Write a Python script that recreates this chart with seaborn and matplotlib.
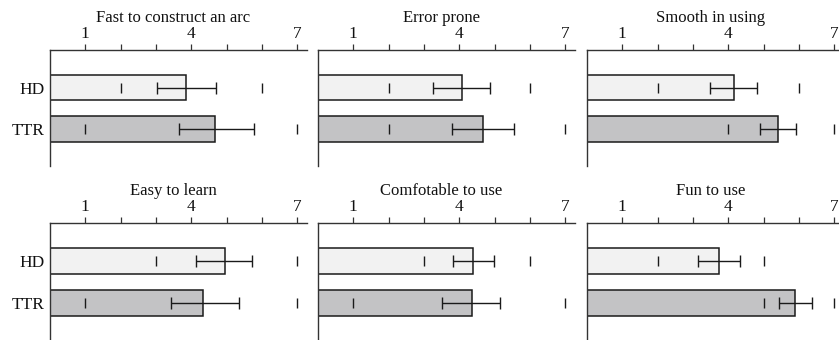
import matplotlib
matplotlib.use("Agg")
import matplotlib.pyplot as plt
import matplotlib.transforms as mtransforms
import seaborn as sns
import pandas as pd

sns.set_theme(style="white")
plt.rcParams['font.family'] = ['Liberation Serif', 'DejaVu Serif']

titles = ["Fast to construct an arc", "Error prone", "Smooth in using",
          "Easy to learn", "Comfotable to use", "Fun to use"]
groups = ["HD", "TTR"]
hd_mean = [3.85, 4.09, 4.15, 4.95, 4.40, 3.74]
hd_lo = [3.02, 3.27, 3.49, 4.13, 3.81, 3.14]
hd_hi = [4.71, 4.88, 4.81, 5.71, 4.99, 4.33]
hd_min = [2, 2, 2, 3, 3, 2]
hd_max = [6, 6, 6, 7, 6, 5]
ttr_mean = [4.68, 4.66, 5.42, 4.34, 4.35, 5.89]
ttr_lo = [3.65, 3.79, 4.89, 3.42, 3.50, 5.44]
ttr_hi = [5.77, 5.54, 5.93, 5.36, 5.15, 6.36]
ttr_min = [1, 2, 4, 1, 1, 5]
ttr_max = [7, 7, 7, 7, 7, 7]
major_ticks = [1, 4, 7]
minor_ticks = [2, 3, 5, 6]

colors = {"HD": "#f2f2f2", "TTR": "#c3c3c5"}

W, H = 839, 340
fig = plt.figure(figsize=(W / 100, H / 100), dpi=100)

lefts = [50, 318, 587]
tops = [50, 223]
bottoms = [166, 340]
aw = 257

for i, title in enumerate(titles):
    r, c = divmod(i, 3)
    x0 = lefts[c] / W
    y0 = 1 - bottoms[r] / H
    h = (bottoms[r] - tops[r]) / H
    ax = fig.add_axes([x0, y0, aw / W, h])
    df = pd.DataFrame({"group": groups,
                       "mean": [hd_mean[i], ttr_mean[i]]})
    sns.barplot(data=df, x="mean", y="group", hue="group", palette=colors,
                orient="h", width=0.62, edgecolor="#1a1a1a", linewidth=1.1,
                errorbar=None, legend=False, ax=ax)
    means = [hd_mean[i], ttr_mean[i]]
    lo = [hd_mean[i] - hd_lo[i], ttr_mean[i] - ttr_lo[i]]
    hi = [hd_hi[i] - hd_mean[i], ttr_hi[i] - ttr_mean[i]]
    ax.errorbar(means, [0, 1], xerr=[lo, hi], fmt="none", ecolor="#1a1a1a",
                elinewidth=1.0, capsize=4.5, capthick=1.0, zorder=5)
    ax.plot([hd_min[i], hd_max[i]], [0, 0], linestyle="none", marker="|",
            markersize=7.5, markeredgewidth=1.0, color="#1a1a1a")
    ax.plot([ttr_min[i], ttr_max[i]], [1, 1], linestyle="none", marker="|",
            markersize=7.5, markeredgewidth=1.0, color="#1a1a1a")
    ax.set_xlim(0, 7.28)
    ax.set_ylim(1.88, -0.9)
    ax.set_xlabel("")
    ax.set_ylabel("")
    ax.xaxis.tick_top()
    ax.set_xticks(major_ticks)
    ax.set_xticks(minor_ticks, minor=True)
    ax.set_xticklabels([str(t) for t in major_ticks], fontsize=12.5)
    ax.tick_params(axis="x", which="both", direction="out", length=4.5,
                   width=0.9, color="#333333", pad=1.5, top=True, bottom=False)
    ax.tick_params(axis="x", which="major", labelsize=12.5, labelcolor="#111111")
    ax.tick_params(axis="y", length=0, pad=4, labelsize=12.5, labelcolor="#111111")
    if c != 0:
        ax.set_yticklabels([])
    for s in ["right", "bottom"]:
        ax.spines[s].set_visible(False)
    for s in ["left", "top"]:
        ax.spines[s].set_color("#333333")
        ax.spines[s].set_linewidth(1.0)
    trans = mtransforms.blended_transform_factory(ax.transData, fig.transFigure)
    ty = 1 - (tops[r] - 32) / H
    ax.text(3.5, ty, title, transform=trans, ha="center", va="center",
            fontsize=12, color="#111111")

fig.savefig("out.png", dpi=100)
